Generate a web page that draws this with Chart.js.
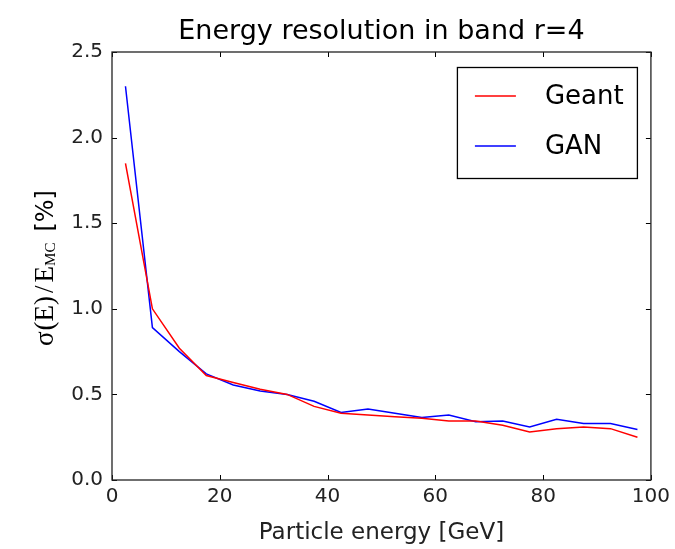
<!DOCTYPE html>
<html>
<head>
<meta charset="utf-8">
<script src="https://cdn.jsdelivr.net/npm/chart.js@4/dist/chart.umd.min.js"></script>
<style>
  html, body { margin: 0; padding: 0; background: #fff; }
  #wrap { width: 675px; height: 549px; }
</style>
</head>
<body>
<div id="wrap"><canvas id="chart"></canvas></div>
<script>
// 数据：粒子能量 (GeV) 与能量分辨率 (%)
const energies = [2.5, 7.5, 12.5, 17.5, 22.5, 27.5, 32.5, 37.5, 42.5, 47.5,
                  52.5, 57.5, 62.5, 67.5, 72.5, 77.5, 82.5, 87.5, 92.5, 97.5];
const geantRes = [1.85, 1.00, 0.77, 0.61, 0.57, 0.53, 0.50, 0.43, 0.39, 0.38,
                  0.37, 0.36, 0.345, 0.345, 0.32, 0.28, 0.30, 0.31, 0.30, 0.25];
const ganRes   = [2.30, 0.89, 0.75, 0.62, 0.555, 0.52, 0.50, 0.46, 0.395, 0.415,
                  0.39, 0.365, 0.38, 0.34, 0.345, 0.31, 0.355, 0.33, 0.33, 0.295];
const seriesNames = ['Geant', 'GAN'];
const xTicks = [0, 20, 40, 60, 80, 100];
const yTicks = [0.0, 0.5, 1.0, 1.5, 2.0, 2.5];

const chartTitle = 'Energy resolution in band r=4';
const xLabel = 'Particle energy [GeV]';

const SANS = "'DejaVu Sans', sans-serif";
const SERIF = "'Liberation Serif', 'DejaVu Serif', serif";

function toPoints(ys) {
    return energies.map((x, i) => ({ x: x, y: ys[i] }));
}

// 坐标框、向内刻度、标题、y 轴标签和图例
const framePlugin = {
    id: 'frame',
    afterDraw(chart) {
        const ctx = chart.ctx;
        const a = chart.chartArea;
        const xs = chart.scales.x;
        const ys = chart.scales.y;
        ctx.save();

        // 向内刻度
        ctx.strokeStyle = '#000';
        ctx.lineWidth = 1;
        const tl = 5;
        xTicks.forEach(v => {
            const px = Math.round(xs.getPixelForValue(v)) + 0.5;
            ctx.beginPath();
            ctx.moveTo(px, a.bottom); ctx.lineTo(px, a.bottom - tl);
            ctx.moveTo(px, a.top); ctx.lineTo(px, a.top + tl);
            ctx.stroke();
        });
        yTicks.forEach(v => {
            const py = Math.round(ys.getPixelForValue(v)) + 0.5;
            ctx.beginPath();
            ctx.moveTo(a.left, py); ctx.lineTo(a.left + tl, py);
            ctx.moveTo(a.right, py); ctx.lineTo(a.right - tl, py);
            ctx.stroke();
        });

        // 外框
        ctx.lineWidth = 1.3;
        ctx.strokeStyle = '#222';
        ctx.strokeRect(a.left, a.top, a.right - a.left, a.bottom - a.top);

        // 标题（相对坐标区居中）
        ctx.fillStyle = '#000';
        ctx.font = '27px ' + SANS;
        ctx.textAlign = 'center';
        ctx.textBaseline = 'middle';
        ctx.fillText(chartTitle, (a.left + a.right) / 2, a.top - 20);

        // y 轴标签：σ(E) / E_MC [%]
        const parts = [
            { t: 'σ', font: '27px ' + SERIF, gap: 0, dy: 0 },
            { t: '(E)', font: '27px ' + SERIF, gap: 1, dy: 0 },
            { t: '/', font: '27px ' + SERIF, gap: 3, dy: 0 },
            { t: 'E', font: '27px ' + SERIF, gap: 3, dy: 0 },
            { t: 'MC', font: '15px ' + SERIF, gap: 0, dy: 2 },
            { t: '[%]', font: '24px ' + SANS, gap: 11, dy: 0 }
        ];
        let total = 0;
        parts.forEach(p => { ctx.font = p.font; p.w = ctx.measureText(p.t).width; total += p.w + p.gap; });
        ctx.translate(53, (a.top + a.bottom) / 2 + 2);
        ctx.rotate(-Math.PI / 2);
        ctx.textAlign = 'left';
        ctx.textBaseline = 'alphabetic';
        let u = -total / 2;
        parts.forEach(p => {
            ctx.font = p.font;
            u += p.gap;
            ctx.fillText(p.t, u, p.dy);
            u += p.w;
        });
        ctx.setTransform(1, 0, 0, 1, 0, 0);

        // 图例
        const bx = a.right - 194, by = a.top + 15, bw = 180, bh = 111;
        ctx.fillStyle = '#fff';
        ctx.fillRect(bx, by, bw, bh);
        ctx.strokeStyle = '#000';
        ctx.lineWidth = 1.3;
        ctx.strokeRect(bx + 0.5, by + 0.5, bw, bh);
        chart.data.datasets.forEach((ds, i) => {
            const ly = by + 29 + i * 50;
            ctx.strokeStyle = ds.borderColor;
            ctx.lineWidth = 1.5;
            ctx.beginPath();
            ctx.moveTo(bx + 18, ly); ctx.lineTo(bx + 59, ly);
            ctx.stroke();
            ctx.fillStyle = '#000';
            ctx.font = '26px ' + SANS;
            ctx.textAlign = 'left';
            ctx.textBaseline = 'middle';
            ctx.fillText(ds.label, bx + 88, ly + 1);
        });
        ctx.restore();
    }
};

const ctx = document.getElementById('chart').getContext('2d');
new Chart(ctx, {
    type: 'line',
    data: {
        datasets: [{
            label: seriesNames[0],
            data: toPoints(geantRes),
            borderColor: '#ff0000',
            borderWidth: 1.5,
            pointRadius: 0,
            tension: 0,
            fill: false
        }, {
            label: seriesNames[1],
            data: toPoints(ganRes),
            borderColor: '#0000ff',
            borderWidth: 1.5,
            pointRadius: 0,
            tension: 0,
            fill: false
        }]
    },
    options: {
        responsive: true,
        maintainAspectRatio: false,
        animation: false,
        layout: { padding: { top: 52, right: 23, left: 0, bottom: 0 } },
        scales: {
            x: {
                type: 'linear',
                min: 0,
                max: 100,
                afterBuildTicks: s => { s.ticks = xTicks.map(v => ({ value: v })); },
                afterFit: s => { s.height = 69; },
                grid: { display: false, drawTicks: false },
                border: { display: false },
                ticks: {
                    color: '#222',
                    padding: 5,
                    font: { family: SANS, size: 20 },
                    callback: v => String(v)
                },
                title: {
                    display: true,
                    text: xLabel,
                    color: '#222',
                    font: { family: SANS, size: 23 },
                    padding: { top: 0, bottom: 2 }
                }
            },
            y: {
                type: 'linear',
                min: 0,
                max: 2.5,
                afterBuildTicks: s => { s.ticks = yTicks.map(v => ({ value: v })); },
                afterFit: s => { s.width = 112; },
                grid: { display: false, drawTicks: false },
                border: { display: false },
                ticks: {
                    color: '#222',
                    padding: 9,
                    font: { family: SANS, size: 20 },
                    callback: v => Number(v).toFixed(1)
                }
            }
        },
        plugins: {
            legend: { display: false },
            title: { display: false },
            tooltip: { enabled: false }
        }
    },
    plugins: [framePlugin]
});
</script>
</body>
</html>
